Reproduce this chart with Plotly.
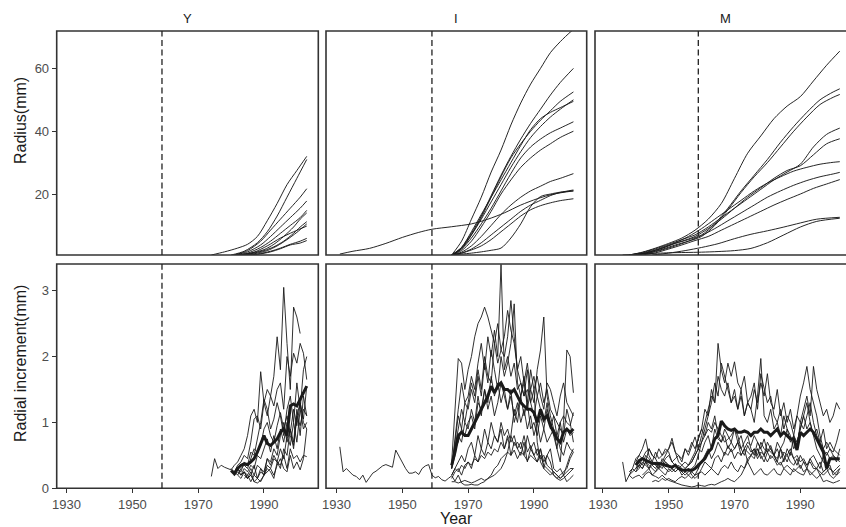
import plotly.graph_objects as go

# ---------------- DATA ----------------
PANELS = ["Y", "I", "M"]
X_TICKS = [1930, 1950, 1970, 1990]
RAD_TICKS = [20, 40, 60]
INC_TICKS = [0, 1, 2, 3]
CUT_YEAR = 1959

# ---- Y : radial increment (start year, yearly values)
Y_INC_START = [1974, 1980, 1981, 1981, 1981, 1982, 1982, 1983, 1984, 1984]
Y_INC = [
    [0.18, 0.45, 0.3, 0.35, 0.32, 0.3, 0.28, 0.35, 0.4, 0.5, 0.6, 0.8, 1.1, 1.2, 1.0, 1.77, 1.3, 1.5, 1.4, 1.7,
     2.3, 1.8, 3.05, 2.2, 1.5, 2.75, 2.6, 2.35],
    [0.3, 0.25, 0.35, 0.4, 0.5, 0.45, 0.7, 1.05, 1.1, 0.9, 1.3, 1.1, 1.4, 1.25, 1.5, 1.6, 1.2, 2.0, 1.7, 2.05,
     1.9, 2.2, 2.05, 1.65],
    [0.2, 0.3, 0.25, 0.4, 0.35, 0.55, 0.5, 0.75, 1.0, 1.35, 1.2, 0.9, 1.05, 1.3, 1.1, 0.8, 1.2, 1.4, 1.0, 1.6,
     1.2, 1.8, 2.0],
    [0.25, 0.2, 0.3, 0.35, 0.3, 0.45, 0.6, 0.55, 0.65, 0.9, 1.0, 0.8, 0.7, 0.95, 1.15, 0.9, 1.1, 0.85, 1.2, 0.95,
     1.3, 1.05, 1.55],
    [0.2, 0.25, 0.2, 0.3, 0.25, 0.35, 0.3, 0.5, 0.45, 0.6, 0.75, 0.55, 0.8, 0.6, 0.9, 0.7, 1.0, 0.8, 0.65, 1.1,
     0.95, 1.2, 1.1],
    [0.2, 0.15, 0.25, 0.2, 0.3, 0.2, 0.35, 0.3, 0.25, 0.45, 0.4, 0.6, 0.5, 0.8, 1.0, 0.7, 0.9, 0.6, 1.1, 1.3,
     1.0, 0.9],
    [0.3, 0.2, 0.25, 0.15, 0.2, 0.35, 0.15, 0.3, 0.2, 0.45, 0.35, 0.5, 0.4, 0.3, 0.6, 0.5, 0.9, 0.7, 1.2, 0.8,
     1.4, 1.1],
    [0.2, 0.25, 0.15, 0.2, 0.1, 0.15, 0.25, 0.2, 0.35, 0.3, 0.45, 0.4, 0.6, 0.45, 0.8, 0.65, 1.0, 0.7, 1.2, 0.9,
     1.0],
    [0.2, 0.15, 0.25, 0.1, 0.08, 0.12, 0.2, 0.3, 0.25, 0.15, 0.4, 0.35, 0.5, 0.3, 0.6, 0.45, 0.5, 0.4, 0.5, 0.48],
    [0.15, 0.2, 0.1, 0.2, 0.15, 0.1, 0.2, 0.25, 0.3, 0.2, 0.35, 0.45, 0.3, 0.25, 0.5, 0.3, 0.4, 0.28, 0.45, 0.9],
]
Y_MEAN_START = 1980
Y_MEAN = [0.27, 0.22, 0.3, 0.35, 0.37, 0.36, 0.4, 0.45, 0.55, 0.68, 0.8, 0.68, 0.65, 0.7, 0.75, 0.85, 0.9, 0.8,
          1.25, 1.28, 1.25, 1.35, 1.45, 1.55]

# ---- Y : radius (years, values)
Y_RAD_YEARS = [
    [1974, 1978, 1982, 1985, 1988, 1991, 1994, 1997, 2000, 2003],
    [1980, 1984, 1988, 1991, 1994, 1997, 2000, 2003],
    [1981, 1985, 1989, 1992, 1995, 1998, 2001, 2003],
    [1981, 1985, 1989, 1992, 1995, 1998, 2001, 2003],
    [1981, 1985, 1989, 1992, 1995, 1998, 2001, 2003],
    [1982, 1986, 1990, 1993, 1996, 1999, 2001, 2003],
    [1982, 1986, 1990, 1993, 1996, 1999, 2001, 2003],
    [1983, 1987, 1991, 1994, 1997, 2000, 2003],
    [1984, 1988, 1992, 1995, 1998, 2001, 2003],
    [1984, 1988, 1992, 1995, 1998, 2001, 2003],
    [1983, 1987, 1991, 1995, 1999, 2003],
]
Y_RAD = [
    [0.6, 1.6, 2.8, 4.0, 6.5, 11.5, 17, 23, 27.5, 32],
    [0.6, 1.8, 4.5, 8, 13, 19, 25, 31],
    [0.6, 2, 5, 8.5, 12, 15.5, 19, 21.7],
    [0.6, 1.6, 3.8, 6.5, 9.5, 12.5, 15.5, 17.8],
    [0.6, 1.2, 3, 5, 7.5, 10, 12.5, 14.8],
    [0.6, 1.2, 2.3, 4, 6.5, 9.5, 12, 14],
    [0.6, 1.0, 2.0, 3.2, 5, 7.5, 9.5, 11.2],
    [0.6, 1.0, 2.0, 3.5, 5.5, 7.8, 10.5],
    [0.6, 0.9, 1.8, 2.8, 4, 5.0, 5.9],
    [0.6, 0.8, 1.6, 2.6, 3.8, 4.4, 5.2],
    [0.6, 1.5, 3.5, 6, 8, 9.8],
]

# ---- I : radial increment
I_INC_START = [1931, 1965, 1965, 1965, 1965, 1965, 1965, 1965, 1965, 1965, 1965]
I_INC = [
    [0.63, 0.25, 0.3, 0.25, 0.2, 0.18, 0.13, 0.2, 0.09, 0.16, 0.23, 0.26, 0.3, 0.34, 0.36, 0.34, 0.32, 0.58, 0.48,
     0.4, 0.3, 0.23, 0.23, 0.25, 0.21, 0.3, 0.34, 0.36, 0.2, 0.16, 0.18, 0.13, 0.11, 0.15, 0.19, 0.11, 0.2, 0.08,
     0.05, 0.05, 0.06, 0.05, 0.05, 0.08, 0.1, 0.15, 0.2, 0.3, 0.35, 0.45, 0.5, 0.55, 0.5, 0.58, 0.45, 0.55, 0.5,
     0.42, 0.5, 0.45, 0.4, 0.5, 0.35, 0.3, 0.25, 0.2, 0.15, 0.12, 0.15, 0.2, 0.25, 0.3],
    [0.4, 1.2, 1.97, 1.9, 1.5, 1.8, 2.0, 2.3, 2.5, 2.6, 2.75, 2.6, 2.4, 2.2, 2.5, 2.1, 2.3, 2.7, 2.4, 2.2,
     1.8, 2.0, 1.6, 1.9, 1.5, 1.7, 1.4, 1.6, 1.3, 1.5, 1.2, 1.1, 1.0, 0.9, 0.8, 1.2, 1.0, 0.7],
    [0.3, 0.8, 1.2, 1.6, 1.3, 1.4, 1.7, 1.5, 1.9, 2.2, 1.8, 2.3, 2.0, 2.4, 2.0, 3.4, 1.8, 2.0, 1.7, 1.9,
     1.5, 1.6, 1.4, 1.8, 1.3, 1.5, 1.7, 1.4, 1.2, 1.6, 1.5, 1.3, 1.1, 1.4, 1.6, 1.3, 1.2, 1.1],
    [0.35, 0.6, 0.9, 1.2, 1.0, 1.3, 1.6, 1.4, 1.8, 1.5, 2.0, 1.7, 1.6, 2.2, 1.9, 2.1, 2.0, 2.3, 2.85, 2.3,
     1.8, 1.6, 1.4, 1.5, 1.3, 1.1, 1.4, 1.2, 1.0, 1.3, 0.9, 1.1, 0.8, 1.0, 0.7, 0.9, 0.8, 0.85],
    [0.3, 0.7, 1.1, 0.9, 1.3, 1.2, 1.5, 1.3, 1.7, 1.4, 1.9, 1.6, 2.1, 1.8, 1.5, 2.0, 1.7, 1.9, 2.2, 2.8,
     1.6, 1.4, 1.7, 1.2, 1.5, 1.3, 1.8, 2.1, 2.6, 1.4, 1.1, 0.9, 0.8, 0.6, 0.5, 0.7, 0.6, 0.55],
    [0.3, 0.5, 0.8, 0.7, 1.0, 0.9, 1.2, 1.0, 1.4, 1.1, 1.5, 1.3, 1.7, 1.4, 1.6, 1.3, 1.5, 1.2, 1.4, 1.1,
     1.3, 1.0, 1.2, 0.9, 1.1, 0.8, 1.0, 0.7, 0.9, 1.2, 1.0, 0.8, 0.6, 0.4, 1.0, 2.1, 2.0, 1.45],
    [0.3, 0.6, 0.7, 0.9, 0.8, 1.0, 1.1, 0.9, 1.3, 1.2, 1.5, 1.2, 1.4, 1.1, 1.3, 1.6, 1.4, 1.2, 1.5, 1.0,
     1.2, 1.4, 1.1, 1.3, 0.9, 1.0, 0.8, 1.1, 0.9, 0.7, 0.8, 0.9, 0.6, 1.0, 1.1, 1.0, 0.95, 1.15],
    [0.2, 0.3, 0.4, 0.5, 0.4, 0.6, 0.7, 0.5, 0.8, 0.6, 0.9, 0.7, 1.0, 0.8, 0.7, 1.0, 0.8, 0.9, 0.7, 0.8,
     0.6, 0.7, 0.5, 0.8, 0.6, 0.7, 0.5, 0.6, 0.4, 0.5, 0.6, 0.3, 0.25, 0.3, 0.2, 0.35, 0.5, 0.6],
    [0.15, 0.25, 0.3, 0.2, 0.35, 0.4, 0.3, 0.5, 0.4, 0.6, 0.5, 0.7, 0.6, 0.8, 0.7, 0.9, 0.6, 0.8, 0.5, 0.7,
     0.6, 0.5, 0.7, 0.4, 0.6, 0.5, 0.4, 0.6, 0.3, 0.5, 0.4, 0.2, 0.15, 0.2, 0.25, 0.3, 0.45, 0.55],
    [0.1, 0.1, 0.08, 0.1, 0.12, 0.1, 0.08, 0.1, 0.12, 0.15, 0.12, 0.15, 0.18, 0.2, 0.25, 0.3, 0.4, 0.55, 0.8, 1.2,
     1.0, 1.4, 1.6, 1.3, 1.8, 1.5, 0.7, 0.4, 0.3, 0.25, 0.2, 0.25, 0.2, 0.15, 0.2, 0.1, 0.15, 0.2],
    [0.2, 0.3, 0.25, 0.35, 0.3, 0.4, 0.35, 0.45, 0.4, 0.5, 0.45, 0.55, 0.5, 0.6, 0.55, 0.7, 0.6, 0.75, 0.8, 0.65,
     0.7, 0.6, 0.8, 0.55, 0.65, 0.5, 0.6, 0.45, 0.5, 0.35, 0.3, 0.25, 0.2, 0.15, 0.2, 0.25, 0.3, 0.3],
]
I_MEAN_START = 1965
I_MEAN = [0.35, 0.55, 0.8, 0.85, 0.8, 0.8, 0.9, 1.0, 1.1, 1.2, 1.3, 1.4, 1.55, 1.45, 1.55, 1.6, 1.5, 1.5, 1.45,
          1.5, 1.4, 1.3, 1.25, 1.2, 1.2, 1.15, 1.0, 1.2, 1.05, 1.1, 0.95, 0.85, 0.75, 0.7, 0.85, 0.9, 0.85, 0.9]

# ---- I : radius
I_RAD_YEARS = [
    [1931, 1935, 1940, 1945, 1950, 1955, 1959, 1965, 1971, 1976, 1981, 1986, 1991, 1996, 2002],
    [1965, 1968, 1971, 1974, 1977, 1980, 1983, 1986, 1989, 1992, 1995, 1998, 2001, 2002],
] + [[1965, 1968, 1971, 1974, 1977, 1980, 1983, 1986, 1989, 1992, 1995, 1998, 2002]] * 10
I_RAD = [
    [0.9, 1.8, 2.7, 4.3, 6.2, 7.8, 8.8, 9.6, 10.5, 12, 14, 16.5, 18.5, 20, 21],
    [0.6, 5, 12, 19, 27, 34, 42, 49, 55, 60, 65, 68.5, 71.5, 72.3],
    [0.6, 3, 7.5, 13, 19.5, 26, 32, 37.5, 42.5, 47, 51.5, 55.5, 60],
    [0.6, 2.5, 7, 12.5, 19, 25.5, 31.5, 36, 40, 43.5, 46.5, 49.5, 52.5],
    [0.6, 3, 8, 13.5, 19, 24.5, 30, 35.5, 40.5, 44, 46, 47.5, 49.5],
    [0.6, 2.5, 6, 10.5, 15.5, 21, 26.5, 31.5, 35, 37.5, 39.5, 41, 43],
    [0.6, 2, 5, 9.5, 14.5, 20, 24.5, 28.5, 31.5, 34, 36, 38, 40],
    [0.6, 1.5, 3.5, 6.5, 10, 13.5, 16.5, 19, 21, 22.5, 24, 25, 26.5],
    [0.6, 1.2, 2.5, 4.5, 7, 9.5, 12, 14.5, 16.5, 18, 19.5, 20.5, 21.3],
    [0.6, 0.9, 1.2, 1.6, 2.1, 2.8, 6, 10.5, 16, 19.2, 20, 20.6, 21],
    [0.6, 1.2, 2.2, 3.5, 5.5, 8, 10.5, 13, 15, 16.3, 17.2, 17.9, 18.5],
    [0.6, 2.8, 7, 12, 17.5, 23, 28.5, 33.5, 38, 41.5, 44.5, 47, 50],
]

# ---- M : radial increment
M_INC_START = [1938, 1940, 1940, 1938, 1938, 1940, 1940, 1942, 1945, 1936]
M_INC = [
    [0.2, 0.3, 0.25, 0.35, 0.45, 0.4, 0.3, 0.35, 0.3, 0.4, 0.35, 0.45, 0.5, 0.4, 0.35, 0.3, 0.35, 0.4, 0.35, 0.45,
     0.55, 0.75, 0.9, 1.2, 1.1, 1.5, 1.3, 2.2, 1.8, 1.6, 1.9, 1.7, 1.92, 1.6, 1.5, 1.7, 1.3, 1.2, 1.0, 1.4,
     1.97, 1.1, 1.0, 1.2, 0.9, 1.0, 0.8, 1.1, 0.9, 0.7, 0.8, 0.6, 1.0, 1.2, 1.4, 1.1, 1.85, 1.5, 1.3, 1.1,
     1.2, 1.0, 1.1, 1.3, 1.2],
    [0.3, 0.4, 0.35, 0.5, 0.45, 0.35, 0.4, 0.3, 0.35, 0.3, 0.25, 0.3, 0.35, 0.3, 0.25, 0.3, 0.35, 0.4, 0.5, 0.6,
     0.8, 1.0, 1.2, 1.4, 1.3, 1.7, 1.5, 1.4, 1.6, 1.3, 1.5, 1.2, 1.4, 1.1, 1.3, 1.2, 1.5, 1.3, 1.6, 1.4,
     1.74, 1.3, 1.2, 1.5, 1.1, 1.3, 1.0, 1.2, 0.9, 1.1, 1.0, 0.9, 1.1, 1.3, 1.0, 0.8, 0.7, 0.9, 0.6, 0.7,
     0.6, 0.55, 0.5],
    [0.25, 0.3, 0.4, 0.35, 0.3, 0.4, 0.35, 0.3, 0.45, 0.4, 0.35, 0.3, 0.25, 0.3, 0.25, 0.2, 0.25, 0.3, 0.35, 0.5,
     0.7, 0.9, 1.1, 1.3, 1.6, 1.4, 1.9, 1.7, 1.5, 1.3, 1.4, 1.2, 1.5, 1.1, 1.3, 1.4, 1.6, 1.2, 1.74, 1.5,
     1.3, 1.4, 1.1, 1.0, 1.2, 0.9, 1.1, 1.0, 0.8, 0.7, 0.9, 1.1, 1.3, 1.0, 0.8, 0.6, 0.5, 0.4, 0.35, 0.3,
     0.25, 0.3, 0.35],
    [0.2, 0.25, 0.3, 0.35, 0.3, 0.4, 0.6, 0.5, 0.45, 0.35, 0.4, 0.5, 0.6, 0.76, 0.55, 0.4, 0.35, 0.3, 0.35, 0.4,
     0.5, 0.6, 0.7, 0.8, 0.9, 0.85, 1.0, 0.9, 0.8, 0.7, 0.75, 0.8, 0.9, 0.7, 0.8, 0.6, 0.7, 0.65, 0.8, 0.7,
     0.6, 0.75, 0.55, 0.6, 0.5, 0.7, 0.6, 0.4, 0.6, 0.5, 0.8, 1.1, 1.4, 1.6, 1.85, 1.5, 1.3, 1.1, 0.8, 0.6,
     0.7, 0.6, 0.5, 0.45, 0.4],
    [0.25, 0.3, 0.45, 0.5, 0.6, 0.75, 0.5, 0.4, 0.55, 0.45, 0.5, 0.6, 0.55, 0.4, 0.45, 0.5, 0.4, 0.6, 0.5, 0.65,
     0.78, 0.6, 0.55, 0.7, 0.8, 0.6, 0.9, 0.75, 0.7, 0.8, 0.6, 0.7, 0.9, 0.8, 0.6, 0.7, 0.8, 0.6, 0.5, 0.7,
     0.6, 0.5, 0.7, 0.6, 0.5, 0.4, 0.6, 0.7, 0.9, 0.8, 0.6, 0.7, 0.9, 1.1, 0.9, 1.0, 0.8, 0.9, 0.7, 0.6,
     0.5, 0.6, 0.55, 0.7, 0.9],
    [0.4, 0.5, 0.45, 0.55, 0.6, 0.5, 0.45, 0.6, 0.5, 0.55, 0.6, 0.7, 0.55, 0.5, 0.45, 0.6, 0.55, 0.7, 0.6, 0.75,
     0.9, 0.8, 1.0, 0.9, 1.1, 0.8, 0.7, 0.9, 0.8, 0.7, 0.6, 0.7, 0.5, 0.6, 0.55, 0.5, 0.6, 0.45, 0.55, 0.5,
     0.4, 0.5, 0.45, 0.35, 0.4, 0.3, 0.35, 0.3, 0.25, 0.3, 0.35, 0.25, 0.3, 0.2, 0.25, 0.3, 0.2, 0.25, 0.3, 0.2,
     0.15, 0.2, 0.25],
    [0.3, 0.35, 0.3, 0.4, 0.35, 0.3, 0.25, 0.35, 0.3, 0.4, 0.35, 0.3, 0.25, 0.3, 0.2, 0.25, 0.2, 0.15, 0.2, 0.3,
     0.4, 0.5, 0.6, 0.45, 0.55, 0.7, 0.6, 0.5, 0.65, 0.55, 0.6, 0.7, 0.6, 0.5, 0.65, 0.55, 0.6, 0.5, 0.7, 0.6,
     0.55, 0.65, 0.5, 0.45, 0.6, 0.5, 0.4, 0.55, 0.45, 0.35, 0.5, 0.4, 0.3, 0.45, 0.35, 0.3, 0.4, 0.25, 0.3, 0.35,
     0.2, 0.25, 0.3],
    [0.2, 0.25, 0.3, 0.2, 0.25, 0.3, 0.25, 0.2, 0.3, 0.25, 0.3, 0.35, 0.3, 0.25, 0.3, 0.2, 0.15, 0.2, 0.3, 0.4,
     0.35, 0.3, 0.45, 0.5, 0.4, 0.55, 0.5, 0.6, 0.45, 0.55, 0.5, 0.6, 0.4, 0.5, 0.45, 0.6, 0.5, 0.4, 0.55, 0.45,
     0.5, 0.4, 0.35, 0.45, 0.5, 0.4, 0.35, 0.45, 0.3, 0.4, 0.35, 0.45, 0.5, 0.4, 0.3, 0.5, 0.55, 0.45, 0.5, 0.4,
     0.6],
    [0.1, 0.12, 0.1, 0.15, 0.12, 0.15, 0.12, 0.1, 0.15, 0.18, 0.15, 0.2, 0.25, 0.2, 0.22, 0.25, 0.2, 0.25, 0.3, 0.25,
     0.2, 0.3, 0.35, 0.3, 0.4, 0.3, 0.25, 0.35, 0.3, 0.4, 0.3, 0.2, 0.25, 0.3, 0.22, 0.2, 0.25, 0.3, 0.22, 0.2,
     0.3, 0.25, 0.2, 0.3, 0.25, 0.22, 0.2, 0.3, 0.25, 0.2, 0.15, 0.2, 0.1, 0.12, 0.1, 0.08, 0.1, 0.12],
    [0.4, 0.1, 0.2, 0.15, 0.18, 0.2, 0.15, 0.22, 0.25, 0.2, 0.18, 0.15, 0.2, 0.15,
     0.12, 0.1, 0.08, 0.06, 0.05, 0.04, 0.03, 0.02, 0.03, 0.05, 0.04, 0.03, 0.05, 0.06, 0.05, 0.08, 0.1, 0.12,
     0.15, 0.12, 0.1, 0.15, 0.2, 0.3, 0.45, 0.5, 0.55, 0.6, 0.45, 0.5, 0.6, 0.55, 0.5, 0.6, 0.45, 0.55, 0.5, 0.6,
     0.45, 0.5, 0.4, 0.45, 0.35, 0.4, 0.3, 0.3, 0.25, 0.2, 0.25, 0.3, 0.25, 0.2, 0.3],
]
M_MEAN_START = 1940
M_MEAN = [0.35, 0.42, 0.45, 0.42, 0.4, 0.38, 0.38, 0.37, 0.37, 0.35, 0.33, 0.32, 0.35, 0.3, 0.28, 0.27, 0.28,
          0.27, 0.3, 0.35, 0.4, 0.45, 0.55, 0.6, 0.75, 0.8, 1.02, 0.95, 0.9, 0.88, 0.9, 0.85, 0.85, 0.87, 0.85,
          0.8, 0.85, 0.85, 0.9, 0.85, 0.85, 0.8, 0.85, 0.9, 0.8, 0.85, 0.8, 0.75, 0.75, 0.58, 0.85, 0.8, 0.85,
          0.9, 0.85, 0.75, 0.65, 0.55, 0.3, 0.45, 0.45, 0.45, 0.45]

# ---- M : radius
M_RAD_YEARS = [
    [1938 + 4 * k for k in range(17)],
    [1940, 1944, 1948, 1952, 1956, 1960, 1964, 1968, 1972, 1976, 1980, 1984, 1988, 1992, 1996, 2000, 2002],
    [1940, 1944, 1948, 1952, 1956, 1960, 1964, 1968, 1972, 1976, 1980, 1984, 1988, 1992, 1996, 2000, 2002],
    [1938 + 4 * k for k in range(17)],
    [1938 + 4 * k for k in range(17)],
    [1940, 1944, 1948, 1952, 1956, 1960, 1964, 1968, 1972, 1976, 1980, 1984, 1988, 1992, 1996, 2000, 2002],
    [1940, 1944, 1948, 1952, 1956, 1960, 1964, 1968, 1972, 1976, 1980, 1984, 1988, 1992, 1996, 2000, 2002],
    [1942 + 4 * k for k in range(16)],
    [1945, 1950, 1955, 1960, 1965, 1970, 1975, 1980, 1985, 1990, 1995, 2002],
    [1936, 1943, 1950, 1955, 1960, 1965, 1970, 1975, 1980, 1985, 1990, 1995, 2002],
]
M_RAD = [
    [0.6, 1.5, 2.8, 4.3, 6, 8.5, 12, 17, 25, 33, 38.5, 44, 48, 51, 56, 61, 65.5],
    [0.6, 1.5, 2.7, 4.3, 5.5, 7, 10.5, 15.5, 21, 26, 31, 36.5, 41.5, 46, 50, 52.5, 53.5],
    [0.6, 1.3, 2.4, 3.8, 5, 6.5, 10, 15, 20.5, 25.5, 30, 35, 40, 44.5, 48.5, 50.8, 51.7],
    [0.6, 1.4, 2.6, 4, 5.5, 7, 9.5, 12.5, 15.5, 18.5, 21.5, 24.5, 27, 29.5, 35, 39, 41],
    [0.6, 1.2, 2.3, 3.7, 5, 6.5, 9, 12, 15.5, 19, 22, 25, 27.5, 29, 32.5, 36, 37.6],
    [0.6, 1.5, 2.8, 4.5, 6.5, 9, 12, 15, 18, 21, 23.5, 25.5, 27.3, 28.5, 29.5, 30.1, 30.3],
    [0.6, 1.2, 2.2, 3.5, 5, 6.8, 9, 11.5, 14, 16.5, 19, 21, 22.8, 24.3, 25.5, 26.4, 26.9],
    [0.6, 1.3, 2.5, 3.8, 5.2, 6.5, 8.5, 10.5, 12.5, 14.5, 16.5, 18.3, 20, 21.8, 23.2, 24.6],
    [0.6, 1.2, 2, 3, 4.2, 5.8, 7.2, 8.3, 9.5, 10.8, 12, 12.6],
    [0.6, 1.0, 1.3, 1.4, 1.5, 1.7, 2.0, 2.7, 4.5, 7, 9.5, 11.3, 12.3],
]

# ---------------- LAYOUT GEOMETRY ----------------
W, H = 846, 527
PX_PER_YEAR = 3.29
COL_PX = [(56.7, 318.3), (326.0, 586.7), (595.0, 855.6)]
COL_X0 = [1927.0, 1926.8, 1927.6]
ROW_PX = [(31.0, 255.0), (264.0, 488.3)]
RAD_RANGE = [0.6, 71.9]
INC_RANGE = [0.0, 3.405]

FONT = "Liberation Sans, Arial, Helvetica, sans-serif"
LINE_C = "#1a1a1a"
BORDER_C = "#333333"
TICK_C = "#4d4d4d"

fig = go.Figure()


def px_to_xpaper(p):
    return p / W


def px_to_ypaper(p):
    return 1 - p / H


def add_line(ax_idx, xs, ys, width, spline=False):
    fig.add_trace(go.Scatter(
        x=xs, y=ys, mode="lines",
        line=dict(color=LINE_C, width=width, shape="spline" if spline else "linear", smoothing=0.8),
        xaxis="x" if ax_idx == 1 else f"x{ax_idx}",
        yaxis="y" if ax_idx == 1 else f"y{ax_idx}",
        showlegend=False, hoverinfo="skip"))


rad_data = [(Y_RAD_YEARS, Y_RAD), (I_RAD_YEARS, I_RAD), (M_RAD_YEARS, M_RAD)]
inc_data = [(Y_INC_START, Y_INC, Y_MEAN_START, Y_MEAN),
            (I_INC_START, I_INC, I_MEAN_START, I_MEAN),
            (M_INC_START, M_INC, M_MEAN_START, M_MEAN)]

for c in range(3):
    yrs, vals = rad_data[c]
    for xs, ys in zip(yrs, vals):
        add_line(c + 1, xs, ys, 0.95, spline=True)
    starts, series, mstart, mean = inc_data[c]
    for s, v in zip(starts, series):
        add_line(c + 4, list(range(s, s + len(v))), v, 0.9)
    add_line(c + 4, list(range(mstart, mstart + len(mean))), mean, 3.0)

layout = dict(
    width=W, height=H,
    margin=dict(l=0, r=0, t=0, b=0, pad=0),
    paper_bgcolor="white", plot_bgcolor="white",
    font=dict(family=FONT, color=TICK_C, size=13),
    showlegend=False,
)

shapes = []
annotations = []
for r in range(2):
    for c in range(3):
        idx = r * 3 + c + 1
        xk = "xaxis" if idx == 1 else f"xaxis{idx}"
        yk = "yaxis" if idx == 1 else f"yaxis{idx}"
        xname = "x" if idx == 1 else f"x{idx}"
        yname = "y" if idx == 1 else f"y{idx}"
        x0p, x1p = COL_PX[c]
        x1clip = min(x1p, W)
        y0p, y1p = ROW_PX[r]
        xr = [COL_X0[c], COL_X0[c] + (x1clip - x0p) / PX_PER_YEAR]
        layout[xk] = dict(
            domain=[px_to_xpaper(x0p), px_to_xpaper(x1clip)],
            range=xr, anchor=yname,
            showgrid=False, zeroline=False, showline=False,
            tickmode="array", tickvals=X_TICKS,
            ticks="outside" if r == 1 else "", ticklen=4, tickwidth=1.1, tickcolor=BORDER_C,
            showticklabels=(r == 1),
            tickfont=dict(family=FONT, size=13, color=TICK_C),
            automargin=False, fixedrange=True,
        )
        layout[yk] = dict(
            domain=[px_to_ypaper(y1p), px_to_ypaper(y0p)],
            range=RAD_RANGE if r == 0 else INC_RANGE, anchor=xname,
            showgrid=False, zeroline=False, showline=False,
            tickmode="array", tickvals=RAD_TICKS if r == 0 else INC_TICKS,
            ticks="outside" if c == 0 else "", ticklen=4, tickwidth=1.1, tickcolor=BORDER_C,
            showticklabels=(c == 0),
            tickfont=dict(family=FONT, size=13, color=TICK_C),
            automargin=False, fixedrange=True,
        )
        # panel border
        shapes.append(dict(type="rect", xref="paper", yref="paper",
                           x0=px_to_xpaper(x0p), x1=px_to_xpaper(x1p),
                           y0=px_to_ypaper(y1p), y1=px_to_ypaper(y0p),
                           line=dict(color=BORDER_C, width=1.6), layer="above"))
        # dashed 1959 line
        shapes.append(dict(type="line", xref=xname, yref=f"{yname} domain",
                           x0=CUT_YEAR, x1=CUT_YEAR, y0=0, y1=1,
                           line=dict(color="#222222", width=1.3, dash="6px,3.5px"), layer="above"))

# strip labels
for c, lab in enumerate(PANELS):
    x0p, x1p = COL_PX[c]
    cx = (x0p + x1p) / 2 if c < 2 else 725
    annotations.append(dict(text=lab, xref="paper", yref="paper",
                            x=px_to_xpaper(cx), y=px_to_ypaper(19),
                            xanchor="center", yanchor="middle", showarrow=False,
                            font=dict(family=FONT, size=13, color="#1a1a1a")))

annotations.append(dict(text="Radius(mm)", xref="paper", yref="paper",
                        x=px_to_xpaper(20), y=px_to_ypaper(121), textangle=-90,
                        xanchor="center", yanchor="middle", showarrow=False,
                        font=dict(family=FONT, size=16, color="#1a1a1a")))
annotations.append(dict(text="Radial increment(mm)", xref="paper", yref="paper",
                        x=px_to_xpaper(20), y=px_to_ypaper(364), textangle=-90,
                        xanchor="center", yanchor="middle", showarrow=False,
                        font=dict(family=FONT, size=16, color="#1a1a1a")))
annotations.append(dict(text="Year", xref="paper", yref="paper",
                        x=px_to_xpaper(456.5), y=px_to_ypaper(518),
                        xanchor="center", yanchor="middle", showarrow=False,
                        font=dict(family=FONT, size=16, color="#1a1a1a")))

layout["shapes"] = shapes
layout["annotations"] = annotations
fig.update_layout(**layout)

fig.write_html("out.html", config={"displayModeBar": False})
